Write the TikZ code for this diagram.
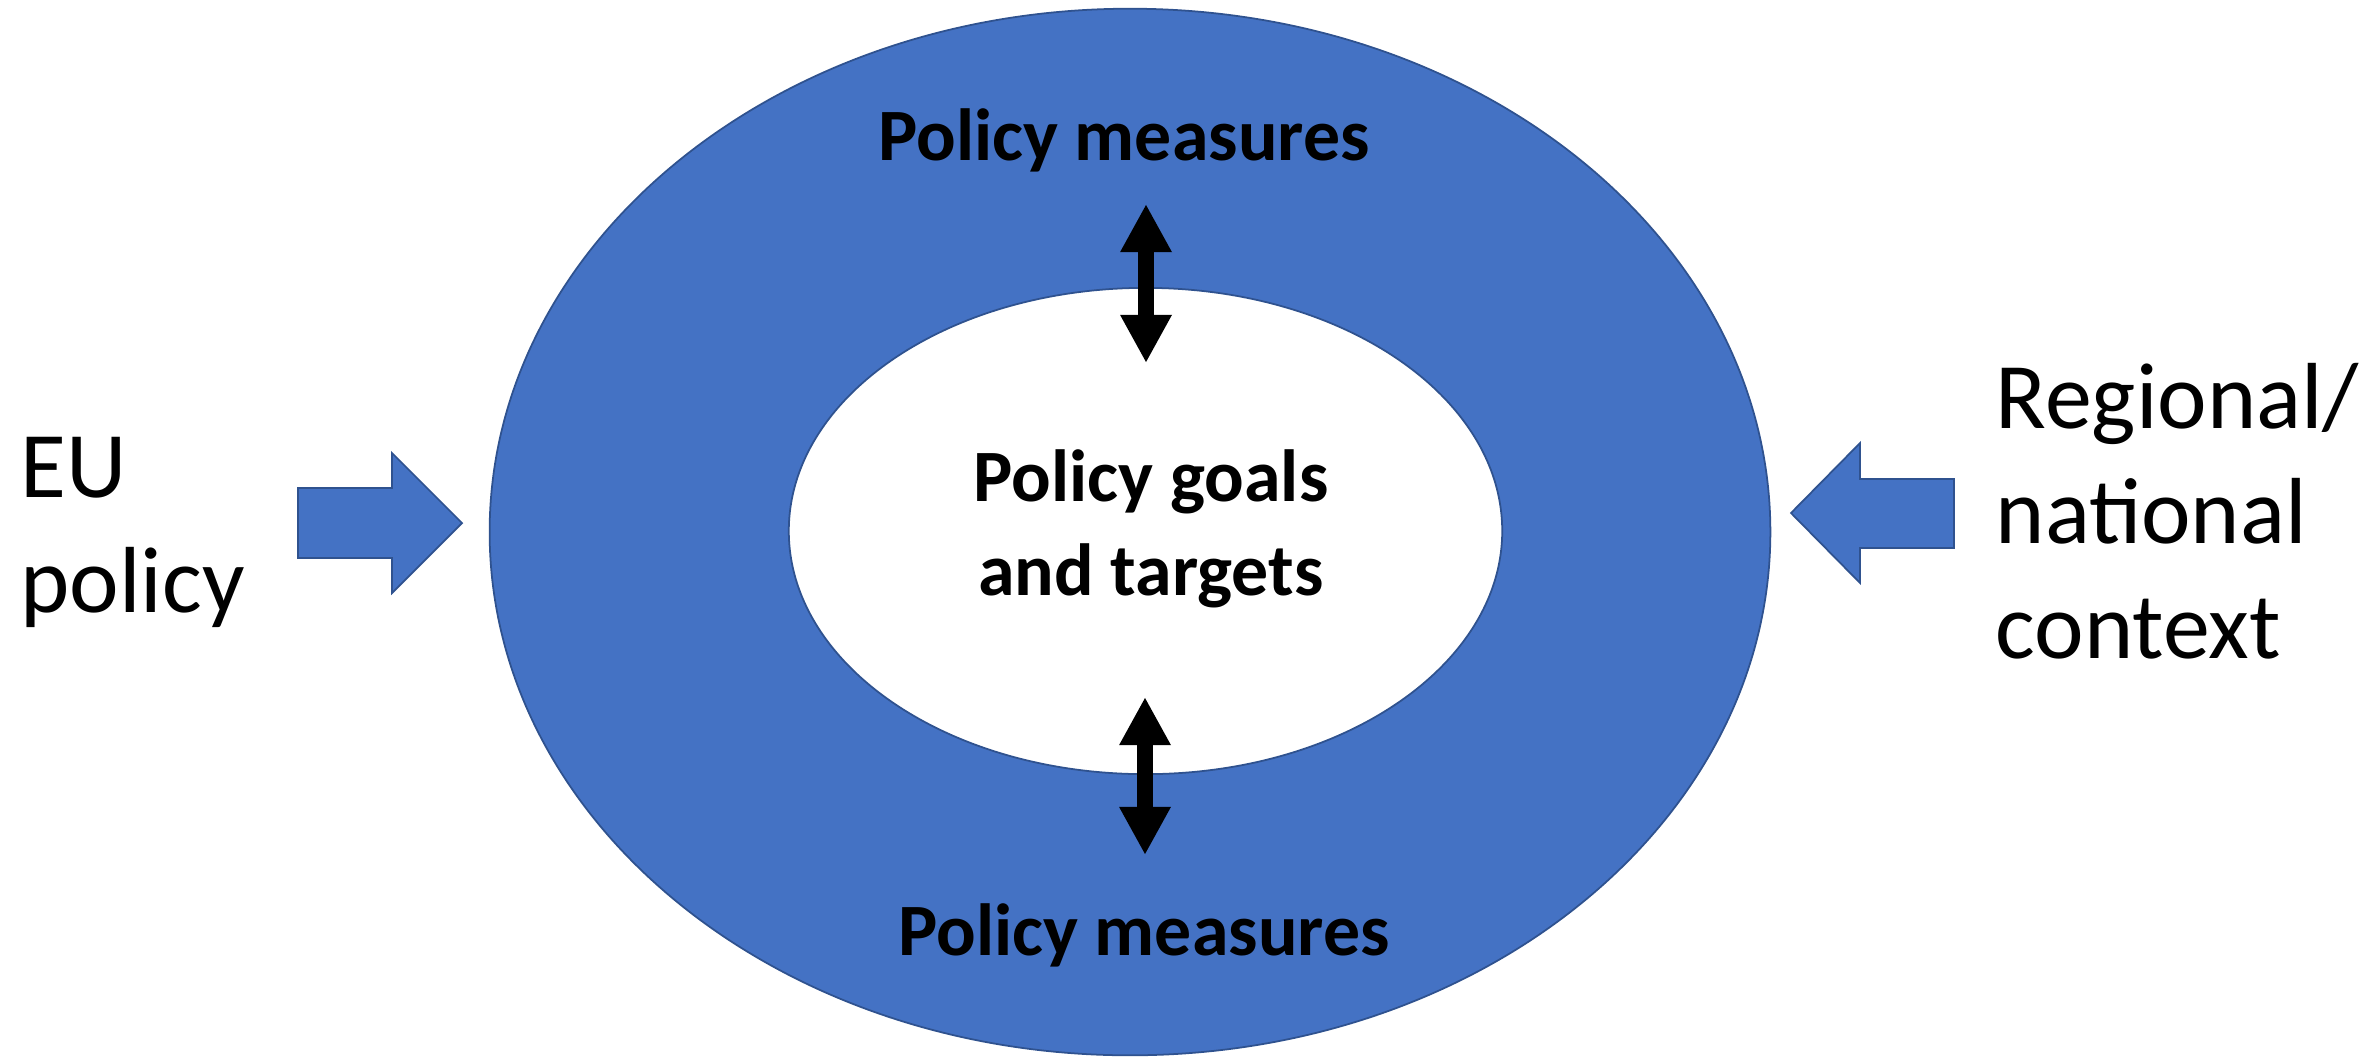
\documentclass[tikz,border=0pt]{standalone}
\usepackage{fontspec}
\setmainfont{Carlito}
\usetikzlibrary{shapes.geometric,arrows.meta}
\definecolor{ringblue}{HTML}{4472C4}
\definecolor{edgeblue}{HTML}{2F528F}
\tikzset{
    ring/.style={ellipse, draw=edgeblue, line width=0.5pt, inner sep=0pt},
    bigarrow/.style={fill=ringblue, draw=edgeblue, line width=0.5pt},
    dblarrow/.style={line width=4.55pt,
        {Triangle[length=13.7pt,width=13.7pt]}-{Triangle[length=13.7pt,width=13.7pt]}},
    boldlabel/.style={font=\fontsize{21}{26.5}\selectfont\bfseries, align=center, inner sep=0pt},
    sidelabel/.style={font=\fontsize{26.7}{32.7}\selectfont, align=left, inner sep=0pt}
}
\begin{document}
\begin{tikzpicture}[x=0.01cm,y=-0.01cm]
    \useasboundingbox (0,0) rectangle (2380,1057);

    % Rings
    \node (outer) [ring, fill=ringblue, minimum width=12.80cm, minimum height=10.46cm] at (1130,532) {};
    \node (inner) [ring, fill=white, minimum width=7.13cm, minimum height=4.86cm] at (1145.5,531) {};

    % Labels (base = last line)
    \node (topmeasures) [boldlabel, anchor=base] at (1124,160) {Policy measures};
    \node (botmeasures) [boldlabel, anchor=base] at (1144,955) {Policy measures};
    \node (goals) [boldlabel, anchor=base] at (1151,595) {Policy goals\\and targets};

    \node (eu) [sidelabel, anchor=base west] at (20,612) {EU\\policy};
    \node (regional) [sidelabel, anchor=base west] at (1995,658) {Regional/\\national\\context};

    % Block arrows
    \draw[bigarrow] (298,488) -- (392,488) -- (392,453) -- (462,523)
        -- (392,593) -- (392,558) -- (298,558) -- cycle;
    \draw[bigarrow] (1954,479) -- (1860,479) -- (1860,443) -- (1791,513)
        -- (1860,583) -- (1860,548) -- (1954,548) -- cycle;

    % Double arrows
    \coordinate (ttop) at (1146,204);
    \coordinate (tbot) at (1146,363);
    \coordinate (btop) at (1145,697);
    \coordinate (bbot) at (1145,855);
    \draw[dblarrow] (ttop) -- (tbot);
    \draw[dblarrow] (btop) -- (bbot);

\end{tikzpicture}
\end{document}
